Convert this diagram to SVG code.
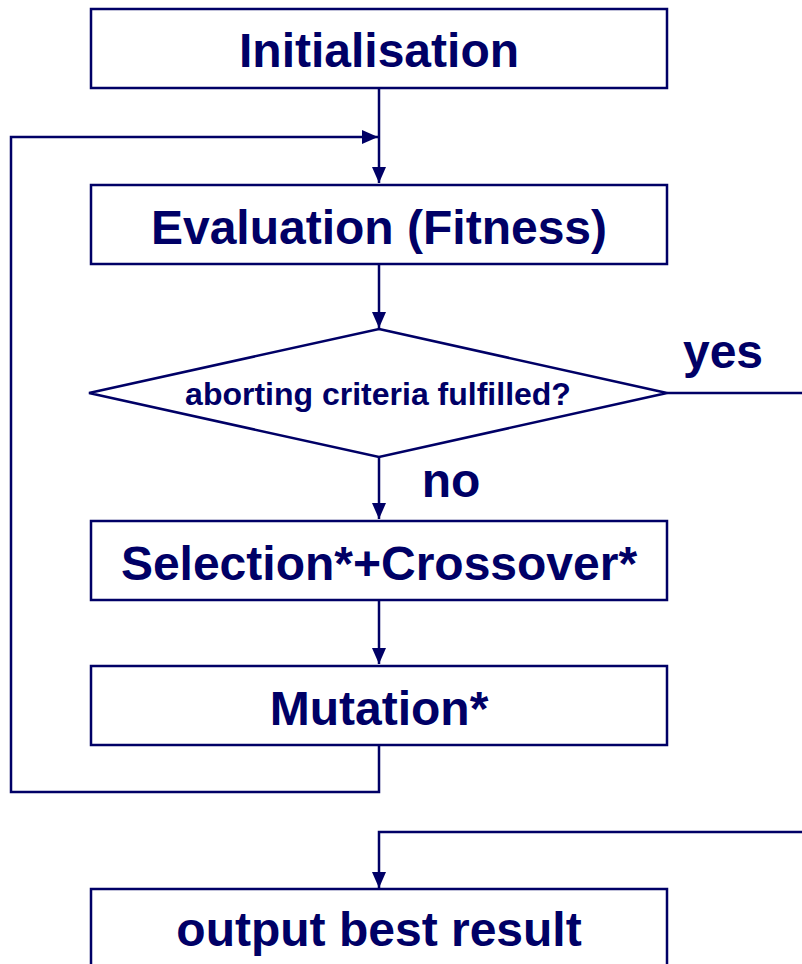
<svg xmlns="http://www.w3.org/2000/svg" width="802" height="964" viewBox="0 0 802 964">
  <style>
    .box { fill: #ffffff; stroke: #000066; stroke-width: 2.5; }
    .line { fill: none; stroke: #000066; stroke-width: 2.5; }
    .t { font-family: "Liberation Sans", Arial, sans-serif; font-weight: bold; fill: #000066; text-anchor: middle; }
  </style>
  <defs>
    <marker id="arrow" viewBox="0 0 16 14" refX="16" refY="7" markerWidth="16" markerHeight="14" markerUnits="userSpaceOnUse" orient="auto">
      <path d="M0,0 L16,7 L0,14 Z" fill="#000066"/>
    </marker>
  </defs>
  <rect width="802" height="964" fill="#ffffff"/>

  <g id="connectors">
    <path class="line" d="M379,88 V183" marker-end="url(#arrow)"/>
    <path class="line" d="M379,745 V792 H11 V137 H378" marker-end="url(#arrow)"/>
    <path class="line" d="M379,264 V328" marker-end="url(#arrow)"/>
    <path class="line" d="M379,457 V519" marker-end="url(#arrow)"/>
    <path class="line" d="M379,600 V664" marker-end="url(#arrow)"/>
    <path class="line" d="M667,393 H802"/>
    <path class="line" d="M802,832 H379 V888" marker-end="url(#arrow)"/>
    <text class="t" x="723" y="368" font-size="48">yes</text>
    <text class="t" x="451" y="497" font-size="48">no</text>
  </g>

  <g id="init">
    <rect class="box" x="91" y="9" width="576" height="79"/>
    <text class="t" x="379" y="67" font-size="48">Initialisation</text>
  </g>
  <g id="evaluation">
    <rect class="box" x="91" y="185" width="576" height="79"/>
    <text class="t" x="379" y="244" font-size="48">Evaluation (Fitness)</text>
  </g>
  <g id="decision">
    <polygon class="box" points="379,329 667,393 379,457 89,393"/>
    <text class="t" x="378" y="405" font-size="32">aborting criteria fulfilled?</text>
  </g>
  <g id="selection">
    <rect class="box" x="91" y="521" width="576" height="79"/>
    <text class="t" x="379" y="580" font-size="48">Selection*+Crossover*</text>
  </g>
  <g id="mutation">
    <rect class="box" x="91" y="666" width="576" height="79"/>
    <text class="t" x="379" y="725" font-size="48">Mutation*</text>
  </g>
  <g id="output">
    <rect class="box" x="91" y="889" width="576" height="90"/>
    <text class="t" x="379" y="946" font-size="48">output best result</text>
  </g>
</svg>
